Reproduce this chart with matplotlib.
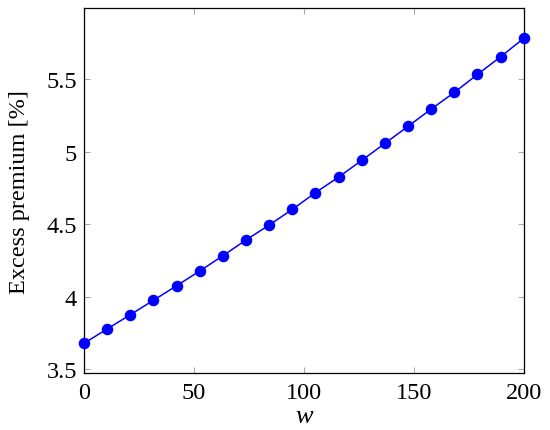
import matplotlib
matplotlib.use('Agg')
from matplotlib import pyplot as plt
import numpy as np

# data
w = np.linspace(0, 200, 20)
premium = [3.677, 3.776, 3.874, 3.974, 4.074, 4.176, 4.281, 4.390, 4.493, 4.601,
           4.716, 4.824, 4.939, 5.056, 5.174, 5.293, 5.408, 5.532, 5.654, 5.781]
xticks = [0, 50, 100, 150, 200]
yticks = [3.5, 4, 4.5, 5, 5.5]
ytick_labels = ['3.5', '4', '4.5', '5', '5.5']

plt.rcParams['font.family'] = ['Liberation Serif', 'DejaVu Serif']

fig = plt.figure(figsize=(5.5, 4.31), dpi=100)
ax = fig.add_axes([0.1527, 0.1315, 0.7995, 0.8467])

ax.plot(w, premium, color=(0, 0, 1), lw=1.1, marker='o', ms=7.3,
        markeredgecolor=(0, 0, 1), markerfacecolor=(0, 0, 1), clip_on=False, zorder=3)

ax.set_xlim(0, 200)
ax.set_ylim(3.47, 5.988)
ax.set_xticks(xticks)
ax.set_xticklabels([str(t) for t in xticks])
ax.set_yticks(yticks)
ax.set_yticklabels(ytick_labels)
ax.tick_params(direction='in', length=4, width=0.8, color='#aaaaaa',
               labelsize=17.5, top=True, right=True)
ax.tick_params(axis='x', pad=6)
ax.tick_params(axis='y', pad=5)
for s in ax.spines.values():
    s.set_linewidth(0.9)

ax.set_xlabel('w', fontsize=19, fontstyle='italic', labelpad=2)
ax.set_ylabel('Excess premium [%]', fontsize=17.5, labelpad=12)

fig.savefig('out.png', dpi=100)
